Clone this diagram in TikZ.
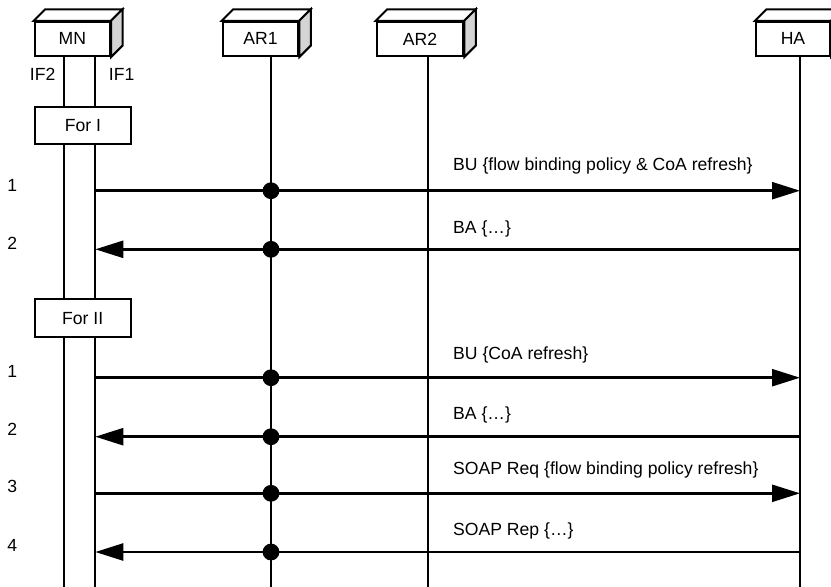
\documentclass[tikz,border=0pt]{standalone}
\usepackage{fontspec}
\setmainfont{Liberation Sans}
\usetikzlibrary{arrows.meta,calc}

\tikzset{
  txt/.style={font=\fontsize{17.6}{20}\selectfont, inner sep=0pt},
  entity/.style={draw, line width=2pt, fill=white, txt, minimum height=34.3pt},
  phase/.style={draw, line width=2pt, fill=white, txt, minimum width=96pt, minimum height=37.5pt},
  lifeline/.style={line width=2pt},
  msg/.style={line width=2.5pt, -{Triangle[length=28pt,width=17pt]}},
  hub/.style={circle, fill=black, inner sep=0pt, minimum size=16.8pt},
  msglabel/.style={txt, anchor=west},
  stepno/.style={txt}
}

% draws the top and side faces of a 3D entity box
\newcommand{\cubefaces}[1]{%
  \filldraw[line width=2pt, fill=white, line join=miter]
    (#1.north west) -- ++(11.5,-11.5) -- ($(#1.north east)+(11.5,-11.5)$) -- (#1.north east) -- cycle;
  \filldraw[line width=2pt, fill=black!17, line join=miter]
    (#1.north east) -- ++(11.5,-11.5) -- ($(#1.south east)+(11.5,-11.5)$) -- (#1.south east) -- cycle;
}

\begin{document}
\begin{tikzpicture}[x=1pt, y=-1pt]
  \useasboundingbox (0,0) rectangle (831,587);
  \clip (0,0) rectangle (831,587);

  % entities
  \node[entity, minimum width=75.3pt] (mn)  at (72.4,38.9) {MN};
  \node[entity, minimum width=75.6pt] (ar1) at (260.5,38.9) {AR1};
  \node[entity, minimum width=86.6pt] (ar2) at (420,38.9) {AR2};
  \node[entity, minimum width=74pt]   (ha)  at (793,38.9) {HA};
  \cubefaces{mn}
  \cubefaces{ar1}
  \cubefaces{ar2}
  \cubefaces{ha}

  % lifeline anchors
  \coordinate (if2top) at (64.3,56);
  \coordinate (if1top) at (95.3,56);
  \coordinate (ar1top) at (271,56);
  \coordinate (ar2top) at (427.7,56);
  \coordinate (hatop)  at (800,56);
  \coordinate (bottom) at (0,590);

  \draw[lifeline] (if2top) -- (if2top |- bottom);
  \draw[lifeline] (if1top) -- (if1top |- bottom);
  \draw[lifeline] (ar1top) -- (ar1top |- bottom);
  \draw[lifeline] (ar2top) -- (ar2top |- bottom);
  \draw[lifeline] (hatop)  -- (hatop |- bottom);

  \node[txt] (if2lbl) at (42.6,74.5) {IF2};
  \node[txt] (if1lbl) at (121.7,74.5) {IF1};

  % phases
  \node[phase] (p1) at (83,125.4) {For I};
  \node[phase] (p2) at (82.7,318.2) {For II};

  % message rows
  \coordinate (r1) at (0,190.7);
  \coordinate (r2) at (0,249.3);
  \coordinate (r3) at (0,377.7);
  \coordinate (r4) at (0,436.7);
  \coordinate (r5) at (0,493.3);
  \coordinate (r6) at (0,552);

  \draw[msg] (if1top |- r1) -- (hatop |- r1);
  \draw[msg] (hatop |- r2) -- (if1top |- r2);
  \draw[msg] (if1top |- r3) -- (hatop |- r3);
  \draw[msg] (hatop |- r4) -- (if1top |- r4);
  \draw[msg] (if1top |- r5) -- (hatop |- r5);
  \draw[msg] (hatop |- r6) -- (if1top |- r6);

  \node[hub] (h1) at (ar1top |- r1) {};
  \node[hub] (h2) at (ar1top |- r2) {};
  \node[hub] (h3) at (ar1top |- r3) {};
  \node[hub] (h4) at (ar1top |- r4) {};
  \node[hub] (h5) at (ar1top |- r5) {};
  \node[hub] (h6) at (ar1top |- r6) {};

  % step numbers
  \node[stepno] (n1) at (12.3,185) {1};
  \node[stepno] (n2) at (12.3,243.3) {2};
  \node[stepno] (n3) at (12.3,371) {1};
  \node[stepno] (n4) at (12.3,429) {2};
  \node[stepno] (n5) at (12.3,486.7) {3};
  \node[stepno] (n6) at (12.3,545) {4};

  % message labels
  \node[msglabel] (l1) at (453,165.7) {BU \{flow binding policy \& CoA refresh\}};
  \node[msglabel] (l2) at (453,229) {BA \{…\}};
  \node[msglabel] (l3) at (453,355) {BU \{CoA refresh\}};
  \node[msglabel] (l4) at (453,415) {BA \{…\}};
  \node[msglabel] (l5) at (453,470) {SOAP Req \{flow binding policy refresh\}};
  \node[msglabel] (l6) at (453,531) {SOAP Rep \{…\}};
\end{tikzpicture}
\end{document}
